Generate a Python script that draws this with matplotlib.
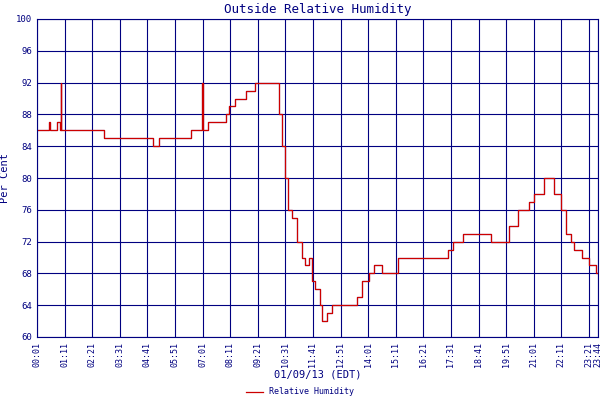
import matplotlib
matplotlib.use("Agg")
import matplotlib.pyplot as plt

# minutes since 00:01 and relative humidity (%)
minutes = [0, 31, 32, 51, 59, 61, 62, 64, 171, 294, 309, 391, 416, 419, 422, 434, 447, 480, 488,
           503, 531, 552, 585, 613, 621, 629, 636, 646, 659, 672, 680, 690, 697, 705, 718, 723,
           736, 749, 761, 812, 825, 843, 856, 876, 889, 915, 920, 1042, 1055, 1081, 1106, 1152,
           1157, 1196, 1221, 1247, 1260, 1285, 1298, 1311, 1329, 1341, 1354, 1362, 1382, 1400,
           1418, 1423]
humidity = [86, 87, 86, 87, 86, 92, 86, 86, 85, 84, 85, 86, 86, 92, 86, 87, 87, 88, 89,
            90, 91, 92, 92, 88, 84, 80, 76, 75, 72, 70, 69, 70, 67, 66, 64, 62,
            63, 64, 64, 65, 67, 68, 69, 68, 68, 70, 70, 71, 72, 73, 73, 72,
            72, 74, 76, 77, 78, 80, 80, 78, 76, 73, 72, 71, 70, 69,
            68, 68]
tick_minutes = [70 * i for i in range(21)] + [1423]
tick_labels = ["00:01", "01:11", "02:21", "03:31", "04:41", "05:51", "07:01", "08:11",
               "09:21", "10:31", "11:41", "12:51", "14:01", "15:11", "16:21", "17:31",
               "18:41", "19:51", "21:01", "22:11", "23:21", "23:44"]

blue = "#000080"
plt.rcParams["font.family"] = "DejaVu Sans Mono"

fig = plt.figure(figsize=(6, 4), dpi=100)
ax = fig.add_axes([0.0617, 0.1575, 0.935, 0.795])
ax.step(minutes, humidity, where="post", color="#1010a0", lw=0.8)
ax.step(minutes, humidity, where="post", color="#cc0000", lw=0.9, label="Relative Humidity")
ax.set_xlim(0, 1423)
ax.set_ylim(60, 100)
ax.set_yticks(range(60, 101, 4))
ax.set_xticks(tick_minutes)
ax.set_xticklabels(tick_labels, rotation=90, fontsize=6, color=blue)
ax.tick_params(axis="y", labelsize=6.5, labelcolor=blue, length=0)
ax.tick_params(axis="x", length=0)
ax.grid(True, color=blue, lw=0.8)
for s in ax.spines.values():
    s.set_color(blue)
ax.set_title("Outside Relative Humidity", color=blue, fontsize=9, pad=4)
ax.set_ylabel("Per Cent", color=blue, fontsize=7.5)
ax.set_xlabel("01/09/13 (EDT)", color=blue, fontsize=7.5, labelpad=2)
fig.legend(loc="lower center", bbox_to_anchor=(0.5, -0.01), frameon=False, fontsize=6,
           handlelength=2, labelcolor=blue)
fig.savefig("out.png", dpi=100, facecolor="white")
